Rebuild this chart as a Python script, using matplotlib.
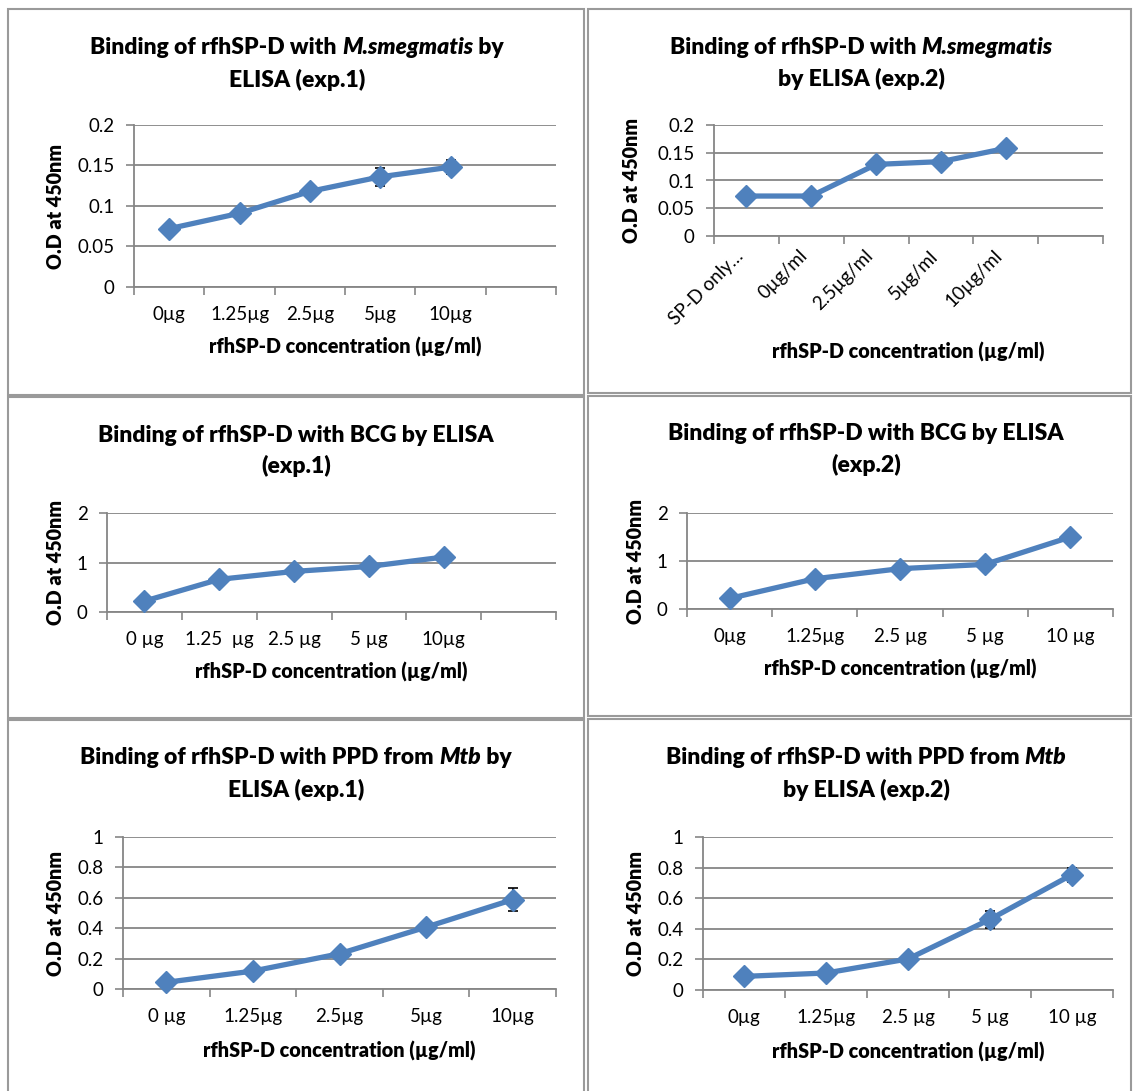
import numpy as np
import matplotlib
matplotlib.use('Agg')
from matplotlib import pyplot as plt
from matplotlib.patches import Rectangle

plt.rcParams['font.family'] = ['Lato', 'DejaVu Sans']

W, H = 1134, 1091

# ---- data ----
smeg1_cats = ['0µg', '1.25µg', '2.5µg', '5µg', '10µg', '']
smeg1_vals = [0.072, 0.091, 0.118, 0.136, 0.148]
smeg1_err = [0.003, 0.004, 0.007, 0.011, 0.009]

smeg2_cats = ['SP-D only…', '0µg/ml', '2.5µg/ml', '5µg/ml', '10µg/ml', '']
smeg2_vals = [0.072, 0.072, 0.129, 0.134, 0.158]
smeg2_err = [0.002, 0.002, 0.004, 0.006, 0.003]

bcg1_cats = ['0 µg', '1.25  µg', '2.5 µg', '5 µg', '10µg', '']
bcg1_vals = [0.22, 0.66, 0.82, 0.92, 1.11]
bcg1_err = [0.03, 0.05, 0.04, 0.04, 0.07]

bcg2_cats = ['0µg', '1.25µg', '2.5 µg', '5 µg', '10 µg']
bcg2_vals = [0.22, 0.63, 0.84, 0.93, 1.50]
bcg2_err = [0.02, 0.04, 0.05, 0.05, 0.04]

ppd1_cats = ['0 µg', '1.25µg', '2.5µg', '5µg', '10µg']
ppd1_vals = [0.044, 0.118, 0.232, 0.407, 0.588]
ppd1_err = [0.01, 0.01, 0.015, 0.02, 0.075]

ppd2_cats = ['0µg', '1.25µg', '2.5 µg', '5 µg', '10 µg']
ppd2_vals = [0.089, 0.111, 0.203, 0.462, 0.754]
ppd2_err = [0.01, 0.01, 0.01, 0.055, 0.045]

ticks_small = [0, 0.05, 0.1, 0.15, 0.2]
ticks_small_lab = ['0', '0.05', '0.1', '0.15', '0.2']
ticks_bcg = [0, 1, 2]
ticks_bcg_lab = ['0', '1', '2']
ticks_ppd = [0, 0.2, 0.4, 0.6, 0.8, 1]
ticks_ppd_lab = ['0', '0.2', '0.4', '0.6', '0.8', '1']

BLUE = '#4F81BD'
GRID = '#868686'
TSIZE = 16.5
LSIZE = 14.2
KSIZE = 13.5
WT = 'heavy'

fig = plt.figure(figsize=(W / 100, H / 100), dpi=100)
renderer = fig.canvas.get_renderer()

# panel frames
for (x0, y0, x1, y1) in [(8, 9, 584, 395), (588, 9, 1131, 393),
                         (8, 397, 584, 718), (588, 396, 1131, 716),
                         (8, 720, 584, 1095), (588, 719, 1131, 1095)]:
    fig.patches.append(Rectangle((x0 / W, 1 - y1 / H), (x1 - x0) / W, (y1 - y0) / H,
                                 transform=fig.transFigure, fill=False,
                                 edgecolor='#9a9a9a', lw=1.5))


def title_line(xc, y, parts):
    # parts: list of (text, italic); drawn side by side and centred on xc
    texts = []
    for s, it in parts:
        t = fig.text(0, 1 - y / H, s, fontsize=TSIZE, fontweight=WT,
                     style='italic' if it else 'normal', ha='left', va='center')
        texts.append(t)
    widths = [t.get_window_extent(renderer).width for t in texts]
    x = xc - sum(widths) / 2
    for t, w in zip(texts, widths):
        t.set_x(x / W)
        x += w


def panel(box, cats, vals, err, yticks, ylabs, title, title_xy, ylab_x, rot=False, xlpad=6):
    x0, x1, ytop, ybot = box
    ax = fig.add_axes([x0 / W, 1 - ybot / H, (x1 - x0) / W, (ybot - ytop) / H])
    n = len(cats)
    xs = np.arange(len(vals))
    ax.errorbar(xs, vals, yerr=err, fmt='none', ecolor='black', elinewidth=1.2,
                capsize=3.5, capthick=1.2, zorder=3)
    ax.plot(xs, vals, color=BLUE, lw=3.8, marker='D', ms=11.5, zorder=4, clip_on=False)
    ax.set_xlim(-0.5, n - 0.5)
    ax.set_ylim(yticks[0], yticks[-1])
    ax.set_yticks(yticks)
    ax.set_yticklabels(ylabs, fontsize=KSIZE)
    ax.set_xticks(np.arange(n + 1) - 0.5)
    ax.set_xticklabels([])
    ax.set_xticks(np.arange(n), minor=True)
    if rot:
        ax.set_xticklabels(cats, minor=True, fontsize=KSIZE, rotation=45, ha='right', va='top')
        ax.tick_params(axis='x', which='minor', length=0, pad=8)
    else:
        ax.set_xticklabels(cats, minor=True, fontsize=KSIZE)
        ax.tick_params(axis='x', which='minor', length=0, pad=14)
    ax.tick_params(axis='x', which='major', length=6, width=1.2, color=GRID)
    ax.tick_params(axis='y', length=6, width=1.2, color=GRID, pad=8)
    ax.grid(axis='y', color=GRID, lw=1.3)
    ax.set_axisbelow(True)
    for s in ['top', 'right']:
        ax.spines[s].set_visible(False)
    for s in ['left', 'bottom']:
        ax.spines[s].set_color(GRID)
        ax.spines[s].set_linewidth(1.3)
    ax.set_xlabel('rfhSP-D concentration (µg/ml)', fontsize=LSIZE, fontweight=WT, labelpad=xlpad)
    fig.text(ylab_x / W, 1 - (ytop + ybot) / 2 / H, 'O.D at 450nm', rotation=90,
             fontsize=LSIZE, fontweight=WT, ha='center', va='center')
    tx, ty1, ty2 = title_xy
    title_line(tx, ty1, title[0])
    title_line(tx, ty2, title[1])
    return ax


a1 = panel((134, 556, 125, 287), smeg1_cats, smeg1_vals, smeg1_err, ticks_small, ticks_small_lab,
           [[('Binding of rfhSP-D with ', False), ('M.smegmatis', True), (' by', False)],
            [('ELISA (exp.1)', False)]],
           (297, 47, 80), 56, xlpad=10)

a2 = panel((714, 1103, 125, 236), smeg2_cats, smeg2_vals, smeg2_err, ticks_small, ticks_small_lab,
           [[('Binding of rfhSP-D with ', False), ('M.smegmatis', True)],
            [('by ELISA (exp.2)', False)]],
           (861, 47, 79), 632, rot=True, xlpad=10)

a3 = panel((107, 556, 513, 612), bcg1_cats, bcg1_vals, bcg1_err, ticks_bcg, ticks_bcg_lab,
           [[('Binding of rfhSP-D with BCG by ELISA', False)], [('(exp.1)', False)]],
           (296, 435, 466), 56, xlpad=10)

a4 = panel((687, 1113, 513, 609), bcg2_cats, bcg2_vals, bcg2_err, ticks_bcg, ticks_bcg_lab,
           [[('Binding of rfhSP-D with BCG by ELISA', False)], [('(exp.2)', False)]],
           (866, 433, 465), 635, xlpad=10)

a5 = panel((123, 556, 837, 989), ppd1_cats, ppd1_vals, ppd1_err, ticks_ppd, ticks_ppd_lab,
           [[('Binding of rfhSP-D with PPD from ', False), ('Mtb', True), (' by', False)],
            [('ELISA (exp.1)', False)]],
           (296, 758, 790), 56, xlpad=11)

a6 = panel((703, 1113, 837, 990), ppd2_cats, ppd2_vals, ppd2_err, ticks_ppd, ticks_ppd_lab,
           [[('Binding of rfhSP-D with PPD from ', False), ('Mtb', True)],
            [('by ELISA (exp.2)', False)]],
           (866, 758, 790), 635, xlpad=11)

fig.savefig('out.png', dpi=100)
